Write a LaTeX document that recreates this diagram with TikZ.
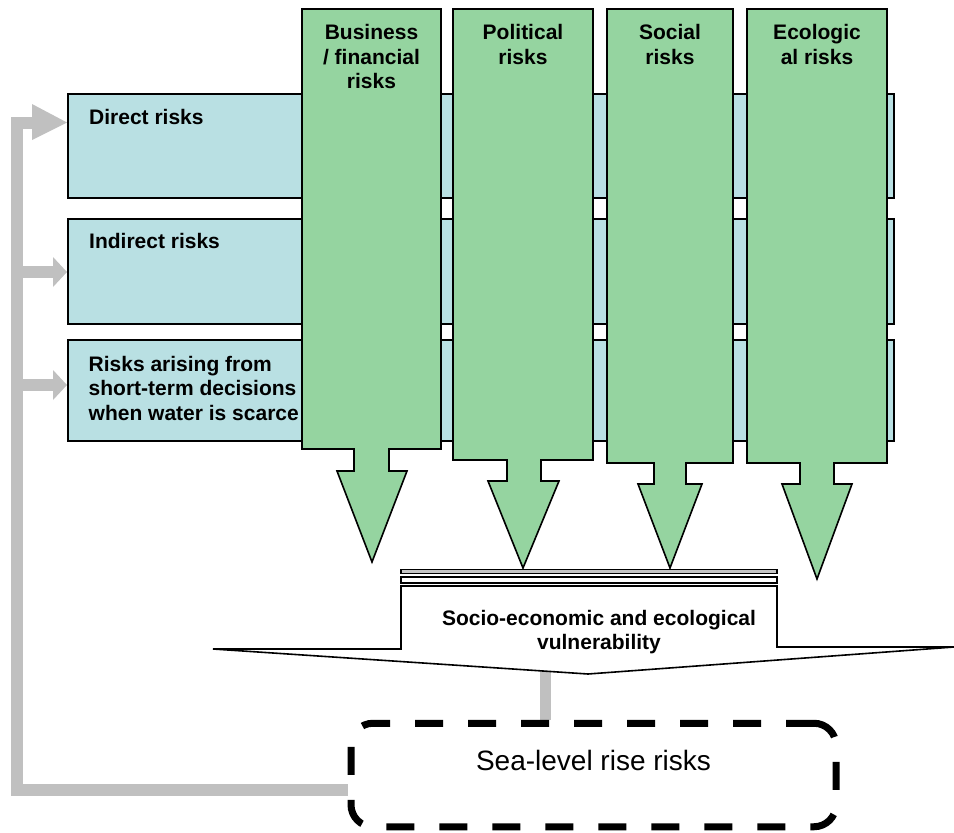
\documentclass[tikz,border=0pt]{standalone}
\usepackage{fontspec}
\setmainfont{Liberation Sans}
\definecolor{boxblue}{RGB}{185,224,227}
\definecolor{arrowgreen}{RGB}{149,212,160}
\definecolor{connGray}{RGB}{192,192,192}
\pgfdeclarelayer{bg}
\pgfsetlayers{bg,main}
\begin{document}
\begin{tikzpicture}[x=1pt,y=-1pt,
  outl/.style={draw=black, line width=1.6pt, line join=miter},
  bluebox/.style={outl, fill=boxblue, rectangle, inner sep=0pt, anchor=north west},
  greenarrow/.style={outl, fill=arrowgreen},
  lbl/.style={font=\bfseries\fontsize{21}{24.5}\selectfont, inner sep=0pt},
  grayline/.style={draw=connGray, line width=12pt, line join=miter},
  grayhead/.style={fill=connGray},
  platebar/.style={draw=black, line width=1.2pt},
  dashbox/.style={draw=black, line width=7pt, dash pattern=on 28pt off 25pt, rounded corners=22pt, inner sep=0pt}
]
\useasboundingbox (0,0) rectangle (954,833);

% blue rows
\node[bluebox, minimum width=826pt, minimum height=104pt] (r1) at (67,93) {};
\node[bluebox, minimum width=826pt, minimum height=105pt] (r2) at (67,218) {};
\node[bluebox, minimum width=826pt, minimum height=101pt] (r3) at (67,339) {};
\node[lbl, anchor=base west] (l1) at (89,124.3) {Direct risks};
\node[lbl, anchor=base west] (l2) at (89,248.3) {Indirect risks};
\node[lbl, anchor=north west, align=left] (l3) at (88.5,355.7) {Risks arising from\\short-term decisions\\when water is scarce};

% green block arrows
\path[greenarrow] (302,9) -- (441,9) -- (441,449) -- (389,449) -- (389,471) -- (407,471) -- (372,562) -- (337,471) -- (354,471) -- (354,449) -- (302,449) -- cycle;
\path[greenarrow] (453,9) -- (593,9) -- (593,460) -- (541,460) -- (541,481) -- (559,481) -- (523,568) -- (488,481) -- (507,481) -- (507,460) -- (453,460) -- cycle;
\path[greenarrow] (607,9) -- (733,9) -- (733,463) -- (686,463) -- (686,484) -- (702,484) -- (670,568) -- (638,484) -- (654,484) -- (654,463) -- (607,463) -- cycle;
\path[greenarrow] (747,9) -- (887,9) -- (887,463) -- (834,463) -- (834,484) -- (852,484) -- (817,579) -- (782,484) -- (800,484) -- (800,463) -- (747,463) -- cycle;
\node[lbl, align=center, anchor=north] (g1) at (371.5,24.5) {Business\\/ financial\\risks};
\node[lbl, align=center, anchor=north] (g2) at (523,24.5) {Political\\risks};
\node[lbl, align=center, anchor=north] (g3) at (670,24.5) {Social\\risks};
\node[lbl, align=center, anchor=north] (g4) at (817,24.5) {Ecologic\\al risks};

% plate
\path[platebar, fill=gray!45] (401,569.5) rectangle (777,573.5);
\path[platebar, fill=white] (401,577) rectangle (777,583);

% vulnerability arrow
\path[outl, fill=white] (401,586) -- (777,586) -- (777,647) -- (954,647) -- (588,674) -- (213,649) -- (401,649) -- cycle;
\node[lbl, align=center, anchor=north] (v) at (599,610) {Socio-economic and ecological\\vulnerability};

% sea-level box
\node[dashbox, minimum width=485pt, minimum height=103.5pt] (slr) at (593.5,775) {};
\node[font=\fontsize{28}{33}\selectfont, anchor=base, inner sep=0pt] (slrt) at (593.5,770) {Sea-level rise risks};

% gray feedback connectors
\coordinate (gy) at (0,790);
\coordinate (h1) at (67,122.5);
\coordinate (h2) at (67,272);
\coordinate (h3) at (67,385);
\begin{pgfonlayer}{bg}
\draw[grayline] (slr.west |- gy) -| (17,123) -- (33,123);
\draw[grayline] (17,272) -- (54,272);
\draw[grayline] (17,385) -- (54,385);
\draw[grayline, line width=11pt] (545.5,660) -- (slr.north -| 545.5,0);
\fill[grayhead] (32,104) -- (h1) -- (32,140) -- cycle;
\fill[grayhead] (53,257) -- (h2) -- (53,287) -- cycle;
\fill[grayhead] (53,370) -- (h3) -- (53,400) -- cycle;
\end{pgfonlayer}
\end{tikzpicture}
\end{document}
